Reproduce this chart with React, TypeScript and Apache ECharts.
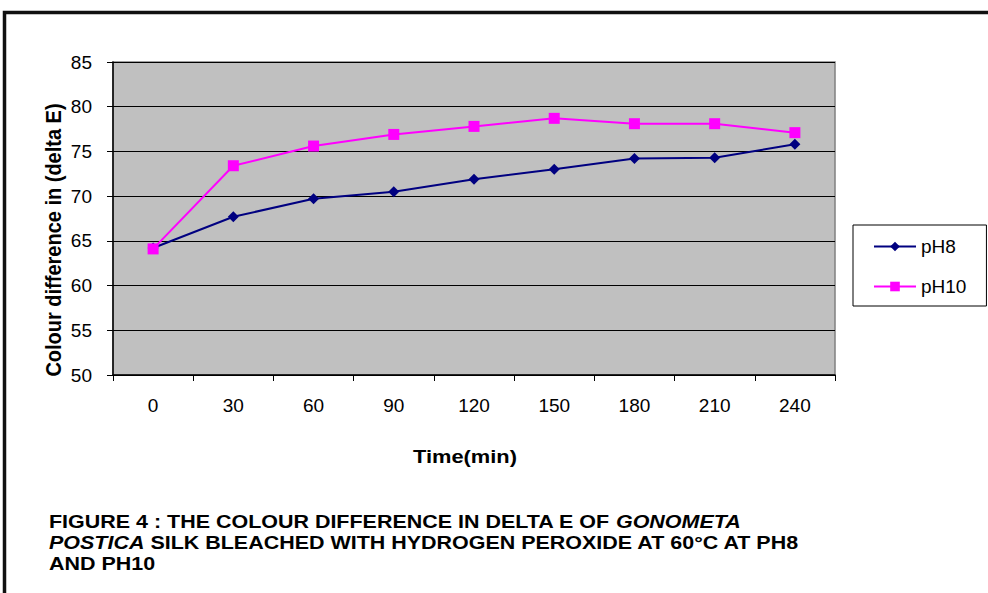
import React, { useEffect, useRef } from "react";
import * as echarts from "echarts";

const categories = ["0", "30", "60", "90", "120", "150", "180", "210", "240"];
const ph8 = [64.2, 67.7, 69.7, 70.5, 71.9, 73.0, 74.2, 74.3, 75.8];
const ph10 = [64.1, 73.4, 75.6, 76.9, 77.8, 78.7, 78.1, 78.1, 77.1];
const yTicks = { min: 50, max: 85, interval: 5 };
const xTitle = "Time(min)";
const yTitle = "Colour difference in (delta E)";

export default function App() {
  const ref = useRef<HTMLDivElement>(null);
  useEffect(() => {
    if (!ref.current) return;
    const chart = echarts.init(ref.current, null, { renderer: "svg" });
    const font = "Liberation Sans, Arial, sans-serif";
    chart.setOption({
      animation: false,
      backgroundColor: "#ffffff",
      grid: {
        left: 113,
        top: 62,
        width: 722,
        height: 313,
        show: true,
        backgroundColor: "#c0c0c0",
        borderColor: "#808080",
        borderWidth: 1.5,
      },
      xAxis: {
        type: "category",
        data: categories,
        boundaryGap: true,
        axisLine: { lineStyle: { color: "#000", width: 1.5 } },
        axisTick: { show: true, alignWithLabel: false, length: 6, lineStyle: { color: "#000" } },
        axisLabel: { fontFamily: font, fontSize: 19, color: "#000", margin: 21 },
        splitLine: { show: false },
      },
      yAxis: {
        type: "value",
        min: yTicks.min,
        max: yTicks.max,
        interval: yTicks.interval,
        axisLine: { show: true, lineStyle: { color: "#000", width: 1.5 } },
        axisTick: { show: true, length: 6, lineStyle: { color: "#000" } },
        axisLabel: { fontFamily: font, fontSize: 19, color: "#000", margin: 21 },
        splitLine: { show: true, lineStyle: { color: "#000", width: 1 } },
      },
      legend: {
        orient: "vertical",
        left: 853,
        top: 225,
        padding: [12, 20, 10, 20],
        itemGap: 21,
        itemWidth: 42,
        itemHeight: 12,
        borderColor: "#000",
        borderWidth: 1,
        backgroundColor: "#fff",
        textStyle: { fontFamily: font, fontSize: 19, color: "#000" },
        data: ["pH8", "pH10"],
      },
      series: [
        {
          name: "pH8",
          type: "line",
          data: ph8,
          symbol: "diamond",
          symbolSize: 11,
          itemStyle: { color: "#000080" },
          lineStyle: { color: "#000080", width: 2 },
        },
        {
          name: "pH10",
          type: "line",
          data: ph10,
          symbol: "rect",
          symbolSize: 11,
          itemStyle: { color: "#ff00ff" },
          lineStyle: { color: "#ff00ff", width: 2 },
        },
      ],
      graphic: [
        {
          type: "rect",
          shape: { x: 4.5, y: 12.5, width: 1200, height: 1000 },
          style: { fill: "none", stroke: "#111", lineWidth: 3.5 },
          silent: true,
        },
        {
          type: "text",
          x: 465,
          y: 456,
          scaleX: 1.15,
          style: {
            text: xTitle,
            x: 0,
            y: 0,
            align: "center",
            verticalAlign: "middle",
            fontFamily: font,
            fontSize: 19,
            fontWeight: "bold",
            fill: "#000",
          },
        },
        {
          type: "text",
          x: 53,
          y: 240,
          rotation: Math.PI / 2,
          scaleY: 1.12,
          style: {
            text: yTitle,
            x: 0,
            y: 0,
            align: "center",
            verticalAlign: "middle",
            fontFamily: font,
            fontSize: 20,
            fontWeight: "bold",
            fill: "#000",
          },
        },
        {
          type: "text",
          x: 49,
          y: 510.5,
          scaleX: 1.13,
          style: {
            x: 0,
            y: 0,
            text: "{b|FIGURE 4 : THE COLOUR DIFFERENCE IN DELTA E OF }{i|GONOMETA}\n{i|POSTICA}{b| SILK BLEACHED WITH HYDROGEN PEROXIDE AT 60°C AT PH8}\n{b|AND PH10}",
            lineHeight: 21,
            rich: {
              b: { fontFamily: font, fontSize: 19, fontWeight: "bold", fill: "#000", lineHeight: 21 },
              i: { fontFamily: font, fontSize: 19, fontWeight: "bold", fontStyle: "italic", fill: "#000", lineHeight: 21 },
            },
          },
        },
      ],
    });
    return () => chart.dispose();
  }, []);
  return (
    <div
      ref={ref}
      style={{ position: "fixed", left: 0, top: 0, width: 988, height: 593 }}
    />
  );
}
